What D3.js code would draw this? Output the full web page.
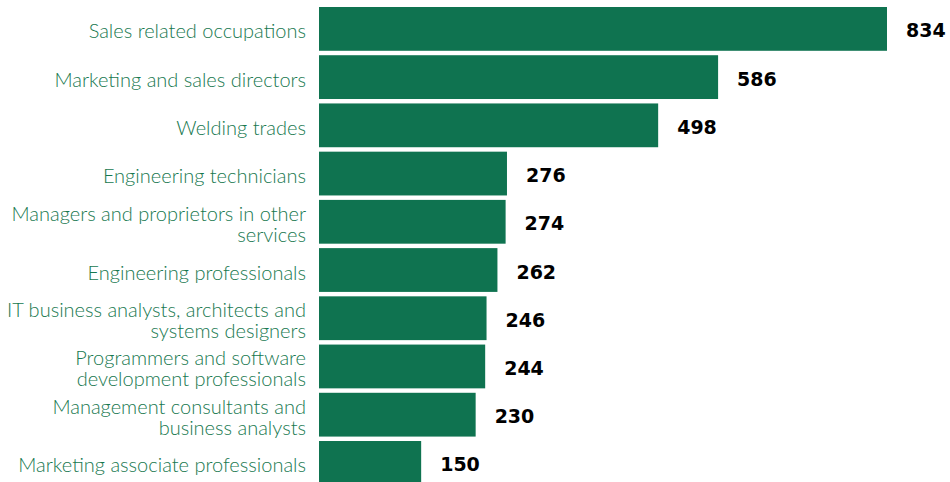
<!DOCTYPE html>
<html>
<head>
<meta charset="utf-8">
<script src="https://cdn.jsdelivr.net/npm/d3@7"></script>
<style>
  html, body { margin: 0; padding: 0; background: #ffffff; }
  svg { display: block; }
</style>
</head>
<body>
<svg id="chart" width="950" height="482"></svg>
<script>
const categories = [
  ["Sales related occupations"],
  ["Marketing and sales directors"],
  ["Welding trades"],
  ["Engineering technicians"],
  ["Managers and proprietors in other", "services"],
  ["Engineering professionals"],
  ["IT business analysts, architects and", "systems designers"],
  ["Programmers and software", "development professionals"],
  ["Management consultants and", "business analysts"],
  ["Marketing associate professionals"]
];
const values = [834, 586, 498, 276, 274, 262, 246, 244, 230, 150];

const svg = d3.select("#chart");
const x0 = 319;
const x = d3.scaleLinear().domain([0, 834]).range([x0, 887]);
const y = d3.scaleBand()
  .domain(d3.range(categories.length))
  .range([7, 484.8])
  .paddingInner(0.092)
  .paddingOuter(0);

const barColor = "#0f7350";
const labelColor = "#17784f";

svg.append("g").selectAll("rect")
  .data(values)
  .join("rect")
  .attr("x", x(0))
  .attr("y", (d, i) => y(i))
  .attr("width", d => x(d) - x(0))
  .attr("height", y.bandwidth())
  .attr("fill", barColor);

svg.append("g").selectAll("text")
  .data(values)
  .join("text")
  .attr("x", d => x(d) + 19)
  .attr("y", (d, i) => y(i) + y.bandwidth() / 2 + 8.5)
  .attr("font-family", "DejaVu Sans, sans-serif")
  .attr("font-weight", "bold")
  .attr("font-size", "19px")
  .attr("fill", "#000")
  .text(d => d);

const lineH = 21;
const lab = svg.append("g").selectAll("text")
  .data(categories)
  .join("text")
  .attr("text-anchor", "end")
  .attr("font-family", "Lato, sans-serif")
  .attr("font-weight", 300)
  .attr("font-size", "20px")
  .attr("fill", labelColor)
  .attr("transform", (d, i) => {
    const c = y(i) + y.bandwidth() / 2 + 9.5 - (d.length - 1) * lineH / 2;
    return `translate(306,${c})`;
  });
lab.selectAll("tspan")
  .data(d => d)
  .join("tspan")
  .attr("x", 0)
  .attr("y", (d, j) => j * lineH)
  .text(d => d);
</script>
</body>
</html>
